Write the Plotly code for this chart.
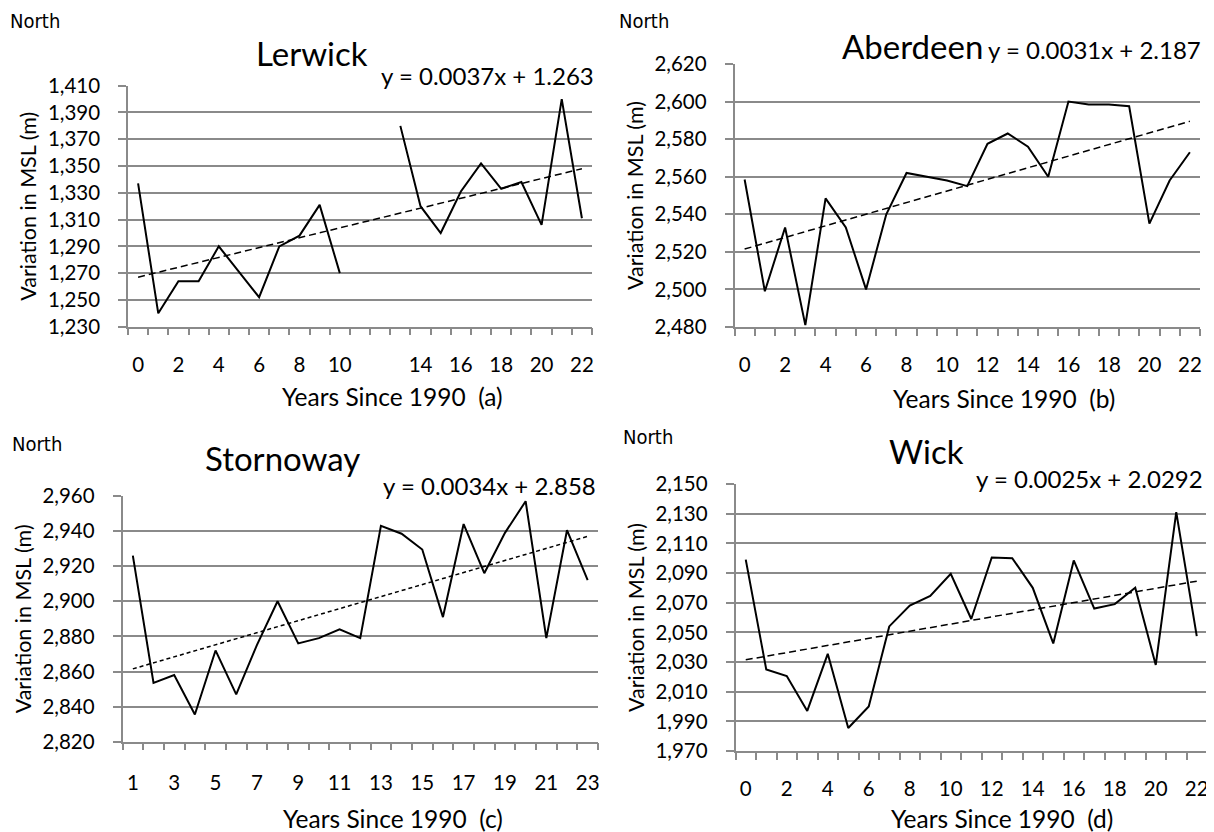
import plotly.graph_objects as go

# ---------------- data ----------------
LERWICK_YEARS = list(range(0, 23))
LERWICK_MSL = [1337, 1240, 1264, 1264, 1290, 1271, 1252, 1290, 1298, 1321, 1270,
               None, None, 1380, 1320, 1300, 1331, 1352, 1333, 1338, 1306, 1400, 1311]
LERWICK_TICKS = [0, 2, 4, 6, 8, 10, 14, 16, 18, 20, 22]
LERWICK_TREND_X = [0, 22]
LERWICK_TREND_Y = [1267, 1348]

ABERDEEN_YEARS = list(range(0, 23))
ABERDEEN_MSL = [2558.5, 2499, 2533, 2481, 2548.5, 2533, 2500, 2540, 2562, 2560, 2558,
                2555, 2577.5, 2583, 2576, 2560, 2600, 2598.5, 2598.5, 2597.5, 2535, 2558, 2573]
ABERDEEN_TICKS = [0, 2, 4, 6, 8, 10, 12, 14, 16, 18, 20, 22]
ABERDEEN_TREND_X = [0, 22]
ABERDEEN_TREND_Y = [2521.5, 2589.5]

STORNOWAY_YEARS = list(range(1, 24))
STORNOWAY_MSL = [2926, 2853.5, 2858, 2835.5, 2872, 2847, 2875, 2900, 2876, 2879, 2884,
                 2879, 2943, 2938.5, 2929.5, 2891, 2944, 2916, 2939, 2957, 2879, 2940.5, 2912]
STORNOWAY_TICKS = [1, 3, 5, 7, 9, 11, 13, 15, 17, 19, 21, 23]
STORNOWAY_TREND_X = [1, 23]
STORNOWAY_TREND_Y = [2861.5, 2937]

WICK_YEARS = list(range(0, 23))
WICK_MSL = [2099, 2025, 2020.5, 1997, 2035.5, 1985.5, 2000, 2054, 2068, 2074.5, 2089.5,
            2059, 2100.5, 2100, 2080, 2042.5, 2098.5, 2066, 2069, 2080, 2028, 2131, 2047.5]
WICK_TICKS = [0, 2, 4, 6, 8, 10, 12, 14, 16, 18, 20, 22]
WICK_TREND_X = [0, 22]
WICK_TREND_Y = [2031.5, 2084.5]

TITLES = ["Lerwick", "Aberdeen", "Stornoway", "Wick"]
EQUATIONS = ["y = 0.0037x + 1.263", "y = 0.0031x + 2.187",
             "y = 0.0034x + 2.858", "y = 0.0025x + 2.0292"]
XTITLES = ["Years Since 1990  (a)", "Years Since 1990  (b)",
           "Years Since 1990  (c)", "Years Since 1990  (d)"]
YTITLE = "Variation in MSL (m)"
YRANGES = [(1230, 1410), (2480, 2620), (2820, 2960), (1970, 2150)]

# ---------------- styling / layout ----------------
PAGE_W, PAGE_H = 1214, 832
BODY = 8  # default page margin of the html body
W, H = PAGE_W - BODY, PAGE_H - BODY
FONT = "Lato, 'Open Sans', sans-serif"
NARROW = "'Liberation Sans Narrow', 'DejaVu Sans Condensed', sans-serif"
GRID = "#8a8a8a"

# plot boxes in page pixels: left, right, top, bottom
BOXES = [(128, 592, 85.7, 326.7), (734.5, 1200, 64, 327),
         (122.5, 598, 496, 741.7), (735.5, 1207, 484, 751)]
NORTH_POS = [(8, 21), (617, 21), (10, 444), (621, 437)]
TITLE_POS = [(312, 53), (912, 46), (282, 458), (926, 451)]
EQ_POS = [(596, 76), (1203, 49), (598, 486), (1205, 478)]
XT_POS = [(392, 397), (1004, 398), (393, 818), (1002, 818)]
XLAB_STANDOFF = [19, 19, 22, 19]
DASHES = ["7px,4px", "7px,4px", "4px,3px", "7px,4px"]

series = [
    (LERWICK_YEARS, LERWICK_MSL, LERWICK_TICKS, LERWICK_TREND_X, LERWICK_TREND_Y),
    (ABERDEEN_YEARS, ABERDEEN_MSL, ABERDEEN_TICKS, ABERDEEN_TREND_X, ABERDEEN_TREND_Y),
    (STORNOWAY_YEARS, STORNOWAY_MSL, STORNOWAY_TICKS, STORNOWAY_TREND_X, STORNOWAY_TREND_Y),
    (WICK_YEARS, WICK_MSL, WICK_TICKS, WICK_TREND_X, WICK_TREND_Y),
]


def px(x):
    return (x - BODY) / W


def py(y):
    return 1 - (y - BODY) / H


fig = go.Figure()
annotations = []
layout = {}

for i, (xs, ys, ticks, tx, ty) in enumerate(series):
    n = i + 1
    xa = "x" if n == 1 else f"x{n}"
    ya = "y" if n == 1 else f"y{n}"
    fig.add_trace(go.Scatter(x=xs, y=ys, mode="lines", xaxis=xa, yaxis=ya,
                             line=dict(color="black", width=2), connectgaps=False,
                             showlegend=False, hoverinfo="x+y"))
    fig.add_trace(go.Scatter(x=tx, y=ty, mode="lines", xaxis=xa, yaxis=ya,
                             line=dict(color="black", width=1.5, dash=DASHES[i]),
                             showlegend=False, hoverinfo="skip"))
    l, r, t, b = BOXES[i]
    xmin, xmax = xs[0] - 0.5, xs[-1] + 0.5
    bounds = [xmin + k for k in range(len(xs) + 1)]
    layout["xaxis" if n == 1 else f"xaxis{n}"] = dict(
        domain=[px(l), px(r)], anchor=ya, range=[xmin, xmax], automargin=False,
        tickmode="array", tickvals=ticks, ticktext=[str(v) for v in ticks],
        ticks="", ticklabelstandoff=XLAB_STANDOFF[i], showgrid=False, zeroline=False,
        showline=True, linecolor=GRID, linewidth=1.5,
        tickfont=dict(family=FONT, size=20.5, color="black"),
        minor=dict(tickmode="array", tickvals=bounds, ticks="outside", ticklen=7,
                   tickcolor=GRID, tickwidth=1.5, showgrid=False),
    )
    y0, y1 = YRANGES[i]
    layout["yaxis" if n == 1 else f"yaxis{n}"] = dict(
        domain=[py(b), py(t)], anchor=xa, range=[y0, y1], dtick=20, tick0=y0,
        automargin=False,
        tickformat=",d", ticks="outside", ticklen=8, tickcolor=GRID, tickwidth=1.5,
        ticklabelstandoff=14, showgrid=True, gridcolor=GRID, gridwidth=1.5,
        zeroline=False, showline=True, linecolor=GRID, linewidth=1.5,
        tickfont=dict(family=FONT, size=20.5, color="black"),
        title=dict(text=YTITLE, font=dict(family=FONT, size=21.5, color="black"), standoff=5),
    )
    # texts
    annotations.append(dict(text="North", x=px(NORTH_POS[i][0]), y=py(NORTH_POS[i][1]),
                            xref="paper", yref="paper", xanchor="left", yanchor="middle",
                            showarrow=False, font=dict(family=NARROW, size=20, color="black")))
    annotations.append(dict(text=TITLES[i], x=px(TITLE_POS[i][0]), y=py(TITLE_POS[i][1]),
                            xref="paper", yref="paper", xanchor="center", yanchor="middle",
                            showarrow=False, font=dict(family=FONT, size=33, color="black")))
    annotations.append(dict(text=EQUATIONS[i], x=px(EQ_POS[i][0]), y=py(EQ_POS[i][1]),
                            xref="paper", yref="paper", xanchor="right", yanchor="middle",
                            showarrow=False, font=dict(family=FONT, size=24, color="black")))
    annotations.append(dict(text=XTITLES[i], x=px(XT_POS[i][0]), y=py(XT_POS[i][1]),
                            xref="paper", yref="paper", xanchor="center", yanchor="middle",
                            showarrow=False, font=dict(family=FONT, size=24.5, color="black")))

fig.update_layout(width=W, height=H, margin=dict(l=0, r=0, t=0, b=0),
                  paper_bgcolor="white", plot_bgcolor="white",
                  annotations=annotations, **layout)

fig.write_html("out.html")
